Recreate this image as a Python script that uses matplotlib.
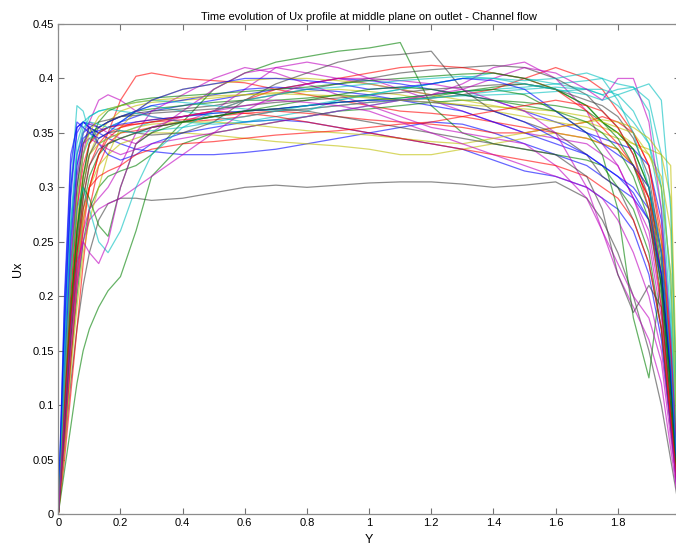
import matplotlib
matplotlib.use("Agg")
import matplotlib.pyplot as plt

plt.rcParams['font.family'] = ['Liberation Sans', 'DejaVu Sans']

# Y positions across the channel (shared by all profiles)
Y = [0, 0.02, 0.04, 0.06, 0.08, 0.1, 0.13, 0.16, 0.2, 0.25, 0.3, 0.4, 0.5, 0.6, 0.7, 0.8,
     0.9, 1.0, 1.1, 1.2, 1.3, 1.4, 1.5, 1.6, 1.7, 1.75, 1.8, 1.85, 1.9, 1.94, 1.97, 2.0]

u01 = [0, 0.20, 0.33, 0.355, 0.36, 0.355, 0.35, 0.355, 0.36, 0.365, 0.37, 0.375, 0.38, 0.385, 0.39, 0.395, 0.40, 0.398, 0.395, 0.39, 0.385, 0.38, 0.37, 0.36, 0.35, 0.345, 0.34, 0.335, 0.32, 0.27, 0.16, 0]
u02 = [0, 0.12, 0.22, 0.30, 0.34, 0.35, 0.355, 0.36, 0.365, 0.37, 0.372, 0.375, 0.378, 0.38, 0.38, 0.382, 0.385, 0.383, 0.38, 0.383, 0.388, 0.392, 0.395, 0.39, 0.375, 0.36, 0.35, 0.335, 0.30, 0.22, 0.12, 0]
u03 = [0, 0.08, 0.16, 0.22, 0.27, 0.30, 0.33, 0.35, 0.38, 0.402, 0.405, 0.40, 0.398, 0.396, 0.39, 0.385, 0.38, 0.375, 0.37, 0.368, 0.365, 0.36, 0.355, 0.35, 0.345, 0.34, 0.335, 0.32, 0.29, 0.22, 0.13, 0]
u04 = [0, 0.18, 0.30, 0.375, 0.37, 0.35, 0.34, 0.345, 0.35, 0.355, 0.36, 0.365, 0.368, 0.37, 0.372, 0.375, 0.378, 0.38, 0.382, 0.385, 0.388, 0.39, 0.392, 0.395, 0.398, 0.40, 0.395, 0.392, 0.37, 0.30, 0.18, 0]
u05 = [0, 0.10, 0.20, 0.28, 0.33, 0.36, 0.38, 0.385, 0.38, 0.37, 0.365, 0.36, 0.37, 0.39, 0.41, 0.415, 0.41, 0.40, 0.39, 0.38, 0.37, 0.36, 0.35, 0.345, 0.34, 0.33, 0.32, 0.29, 0.25, 0.18, 0.09, 0]
u06 = [0, 0.09, 0.18, 0.25, 0.30, 0.33, 0.35, 0.36, 0.37, 0.375, 0.378, 0.38, 0.382, 0.385, 0.387, 0.388, 0.39, 0.388, 0.385, 0.38, 0.375, 0.37, 0.365, 0.36, 0.355, 0.35, 0.345, 0.34, 0.335, 0.33, 0.32, 0]
u07 = [0, 0.06, 0.12, 0.17, 0.21, 0.24, 0.27, 0.285, 0.29, 0.29, 0.288, 0.29, 0.295, 0.30, 0.302, 0.30, 0.302, 0.304, 0.305, 0.305, 0.303, 0.30, 0.302, 0.305, 0.29, 0.27, 0.24, 0.20, 0.15, 0.10, 0.05, 0]
u08 = [0, 0.14, 0.26, 0.33, 0.35, 0.355, 0.35, 0.345, 0.34, 0.335, 0.333, 0.33, 0.33, 0.332, 0.335, 0.34, 0.345, 0.35, 0.355, 0.36, 0.358, 0.35, 0.34, 0.33, 0.32, 0.31, 0.30, 0.29, 0.27, 0.21, 0.11, 0]
u09 = [0, 0.07, 0.14, 0.20, 0.25, 0.28, 0.30, 0.31, 0.315, 0.32, 0.33, 0.36, 0.39, 0.405, 0.415, 0.42, 0.425, 0.428, 0.433, 0.375, 0.35, 0.34, 0.335, 0.33, 0.325, 0.32, 0.30, 0.28, 0.24, 0.17, 0.08, 0]
u10 = [0, 0.05, 0.11, 0.17, 0.23, 0.28, 0.32, 0.34, 0.35, 0.352, 0.355, 0.36, 0.362, 0.365, 0.37, 0.372, 0.375, 0.378, 0.38, 0.382, 0.385, 0.39, 0.40, 0.41, 0.40, 0.39, 0.37, 0.35, 0.32, 0.25, 0.14, 0]
u11 = [0, 0.11, 0.21, 0.29, 0.33, 0.345, 0.35, 0.355, 0.36, 0.37, 0.375, 0.37, 0.365, 0.36, 0.365, 0.37, 0.38, 0.385, 0.39, 0.395, 0.40, 0.405, 0.40, 0.395, 0.39, 0.385, 0.39, 0.392, 0.38, 0.33, 0.20, 0]
u12 = [0, 0.13, 0.24, 0.32, 0.35, 0.36, 0.355, 0.35, 0.345, 0.34, 0.35, 0.37, 0.39, 0.405, 0.41, 0.405, 0.40, 0.395, 0.39, 0.385, 0.395, 0.41, 0.415, 0.40, 0.37, 0.34, 0.32, 0.29, 0.26, 0.19, 0.10, 0]
u13 = [0, 0.07, 0.15, 0.22, 0.27, 0.30, 0.32, 0.33, 0.34, 0.345, 0.35, 0.35, 0.348, 0.345, 0.342, 0.34, 0.338, 0.335, 0.33, 0.33, 0.335, 0.34, 0.345, 0.35, 0.345, 0.34, 0.335, 0.32, 0.30, 0.25, 0.16, 0]
u14 = [0, 0.10, 0.19, 0.26, 0.31, 0.34, 0.355, 0.36, 0.365, 0.368, 0.37, 0.372, 0.375, 0.38, 0.385, 0.39, 0.395, 0.40, 0.405, 0.408, 0.41, 0.412, 0.41, 0.40, 0.385, 0.37, 0.355, 0.33, 0.29, 0.21, 0.12, 0]
u15 = [0, 0.16, 0.29, 0.355, 0.36, 0.358, 0.355, 0.36, 0.365, 0.37, 0.375, 0.38, 0.385, 0.39, 0.392, 0.39, 0.388, 0.385, 0.38, 0.375, 0.37, 0.36, 0.35, 0.34, 0.33, 0.32, 0.31, 0.30, 0.28, 0.22, 0.13, 0]
u16 = [0, 0.04, 0.08, 0.12, 0.15, 0.17, 0.19, 0.205, 0.218, 0.26, 0.31, 0.34, 0.35, 0.355, 0.36, 0.365, 0.37, 0.372, 0.375, 0.378, 0.38, 0.38, 0.378, 0.375, 0.37, 0.36, 0.35, 0.335, 0.30, 0.23, 0.12, 0]
u17 = [0, 0.09, 0.17, 0.24, 0.29, 0.32, 0.34, 0.35, 0.355, 0.358, 0.36, 0.362, 0.365, 0.368, 0.37, 0.368, 0.365, 0.362, 0.36, 0.358, 0.355, 0.35, 0.35, 0.355, 0.36, 0.365, 0.36, 0.35, 0.32, 0.26, 0.15, 0]
u18 = [0, 0.12, 0.23, 0.31, 0.35, 0.365, 0.37, 0.372, 0.375, 0.378, 0.38, 0.378, 0.375, 0.372, 0.37, 0.372, 0.375, 0.378, 0.38, 0.382, 0.384, 0.385, 0.386, 0.388, 0.39, 0.39, 0.385, 0.37, 0.34, 0.28, 0.17, 0]
u19 = [0, 0.08, 0.16, 0.22, 0.26, 0.28, 0.29, 0.30, 0.32, 0.35, 0.37, 0.385, 0.40, 0.41, 0.405, 0.395, 0.385, 0.375, 0.365, 0.355, 0.35, 0.345, 0.34, 0.32, 0.29, 0.26, 0.22, 0.19, 0.16, 0.12, 0.06, 0]
u20 = [0, 0.06, 0.13, 0.19, 0.24, 0.27, 0.30, 0.33, 0.355, 0.37, 0.38, 0.39, 0.395, 0.398, 0.40, 0.40, 0.398, 0.395, 0.39, 0.385, 0.38, 0.375, 0.37, 0.365, 0.36, 0.355, 0.35, 0.34, 0.33, 0.31, 0.26, 0]
u21 = [0, 0.11, 0.22, 0.30, 0.34, 0.355, 0.36, 0.362, 0.365, 0.366, 0.368, 0.37, 0.372, 0.375, 0.378, 0.38, 0.382, 0.385, 0.387, 0.39, 0.392, 0.394, 0.395, 0.39, 0.38, 0.375, 0.365, 0.345, 0.31, 0.24, 0.14, 0]
u22 = [0, 0.17, 0.30, 0.35, 0.36, 0.355, 0.34, 0.33, 0.325, 0.33, 0.34, 0.35, 0.355, 0.36, 0.362, 0.36, 0.355, 0.35, 0.345, 0.34, 0.335, 0.325, 0.315, 0.31, 0.30, 0.29, 0.28, 0.26, 0.22, 0.16, 0.08, 0]
u23 = [0, 0.08, 0.16, 0.23, 0.28, 0.31, 0.33, 0.34, 0.345, 0.35, 0.355, 0.36, 0.365, 0.37, 0.372, 0.375, 0.378, 0.38, 0.382, 0.385, 0.388, 0.39, 0.385, 0.37, 0.35, 0.33, 0.28, 0.18, 0.125, 0.22, 0.12, 0]
u24 = [0, 0.07, 0.14, 0.21, 0.26, 0.30, 0.33, 0.345, 0.355, 0.36, 0.362, 0.365, 0.37, 0.38, 0.39, 0.395, 0.40, 0.405, 0.41, 0.412, 0.41, 0.405, 0.40, 0.39, 0.37, 0.355, 0.34, 0.32, 0.29, 0.24, 0.15, 0]
u25 = [0, 0.15, 0.27, 0.34, 0.36, 0.365, 0.37, 0.372, 0.37, 0.368, 0.365, 0.36, 0.358, 0.36, 0.362, 0.365, 0.37, 0.375, 0.38, 0.382, 0.385, 0.388, 0.39, 0.392, 0.39, 0.385, 0.375, 0.36, 0.34, 0.30, 0.22, 0]
u26 = [0, 0.12, 0.23, 0.31, 0.34, 0.345, 0.34, 0.335, 0.33, 0.335, 0.34, 0.345, 0.35, 0.355, 0.36, 0.365, 0.37, 0.375, 0.38, 0.385, 0.39, 0.40, 0.41, 0.405, 0.39, 0.38, 0.40, 0.40, 0.36, 0.28, 0.16, 0]
u27 = [0, 0.10, 0.19, 0.27, 0.31, 0.33, 0.34, 0.345, 0.35, 0.355, 0.358, 0.36, 0.36, 0.358, 0.355, 0.352, 0.35, 0.348, 0.345, 0.342, 0.34, 0.345, 0.35, 0.355, 0.36, 0.362, 0.36, 0.355, 0.345, 0.33, 0.29, 0]
u28 = [0, 0.09, 0.18, 0.25, 0.30, 0.33, 0.345, 0.35, 0.352, 0.35, 0.348, 0.35, 0.36, 0.38, 0.395, 0.405, 0.415, 0.42, 0.422, 0.425, 0.39, 0.37, 0.36, 0.35, 0.33, 0.31, 0.30, 0.27, 0.23, 0.17, 0.08, 0]
u29 = [0, 0.13, 0.25, 0.32, 0.345, 0.35, 0.352, 0.355, 0.358, 0.36, 0.362, 0.365, 0.368, 0.37, 0.372, 0.375, 0.378, 0.38, 0.38, 0.378, 0.375, 0.37, 0.36, 0.345, 0.33, 0.32, 0.31, 0.295, 0.27, 0.22, 0.13, 0]
u30 = [0, 0.09, 0.18, 0.26, 0.31, 0.34, 0.36, 0.37, 0.375, 0.38, 0.382, 0.384, 0.386, 0.388, 0.39, 0.392, 0.395, 0.398, 0.40, 0.402, 0.404, 0.405, 0.40, 0.39, 0.375, 0.36, 0.345, 0.32, 0.28, 0.21, 0.11, 0]
u31 = [0, 0.11, 0.20, 0.28, 0.32, 0.34, 0.35, 0.355, 0.357, 0.358, 0.36, 0.365, 0.37, 0.368, 0.365, 0.36, 0.355, 0.35, 0.345, 0.34, 0.335, 0.33, 0.325, 0.32, 0.31, 0.30, 0.29, 0.27, 0.23, 0.17, 0.09, 0]
u32 = [0, 0.14, 0.26, 0.33, 0.355, 0.36, 0.358, 0.355, 0.352, 0.35, 0.352, 0.355, 0.36, 0.365, 0.37, 0.375, 0.38, 0.385, 0.39, 0.395, 0.40, 0.40, 0.395, 0.39, 0.385, 0.38, 0.385, 0.39, 0.395, 0.38, 0.28, 0]
u33 = [0, 0.07, 0.15, 0.21, 0.25, 0.27, 0.28, 0.285, 0.29, 0.30, 0.31, 0.33, 0.35, 0.37, 0.385, 0.395, 0.40, 0.40, 0.398, 0.395, 0.39, 0.38, 0.37, 0.35, 0.30, 0.26, 0.23, 0.20, 0.18, 0.14, 0.07, 0]
u34 = [0, 0.12, 0.22, 0.29, 0.33, 0.35, 0.365, 0.372, 0.375, 0.378, 0.38, 0.382, 0.384, 0.385, 0.386, 0.385, 0.384, 0.382, 0.38, 0.378, 0.376, 0.374, 0.372, 0.37, 0.365, 0.36, 0.355, 0.35, 0.33, 0.30, 0.22, 0]
u35 = [0, 0.08, 0.17, 0.24, 0.29, 0.32, 0.335, 0.34, 0.345, 0.35, 0.355, 0.36, 0.365, 0.37, 0.372, 0.37, 0.365, 0.36, 0.355, 0.35, 0.345, 0.34, 0.335, 0.33, 0.31, 0.28, 0.22, 0.185, 0.21, 0.19, 0.10, 0]
u36 = [0, 0.19, 0.32, 0.36, 0.355, 0.35, 0.345, 0.35, 0.36, 0.37, 0.38, 0.39, 0.395, 0.40, 0.40, 0.398, 0.395, 0.39, 0.392, 0.395, 0.40, 0.398, 0.39, 0.37, 0.35, 0.34, 0.33, 0.32, 0.30, 0.24, 0.13, 0]
u37 = [0, 0.10, 0.19, 0.26, 0.30, 0.29, 0.265, 0.255, 0.30, 0.34, 0.35, 0.36, 0.365, 0.37, 0.375, 0.38, 0.385, 0.39, 0.392, 0.39, 0.385, 0.38, 0.375, 0.37, 0.36, 0.35, 0.335, 0.31, 0.27, 0.20, 0.10, 0]
u38 = [0, 0.10, 0.18, 0.24, 0.28, 0.30, 0.31, 0.315, 0.32, 0.33, 0.335, 0.34, 0.342, 0.345, 0.348, 0.35, 0.352, 0.355, 0.358, 0.36, 0.365, 0.37, 0.375, 0.38, 0.375, 0.37, 0.355, 0.33, 0.28, 0.19, 0.09, 0]
u39 = [0, 0.12, 0.22, 0.28, 0.30, 0.28, 0.25, 0.24, 0.26, 0.30, 0.33, 0.355, 0.37, 0.38, 0.385, 0.39, 0.392, 0.395, 0.398, 0.40, 0.402, 0.40, 0.398, 0.40, 0.405, 0.40, 0.38, 0.35, 0.30, 0.24, 0.14, 0]
u40 = [0, 0.09, 0.17, 0.23, 0.25, 0.24, 0.23, 0.25, 0.30, 0.34, 0.355, 0.365, 0.37, 0.375, 0.38, 0.378, 0.375, 0.37, 0.36, 0.35, 0.34, 0.33, 0.32, 0.31, 0.30, 0.29, 0.27, 0.24, 0.20, 0.15, 0.08, 0]

profiles = [u01, u02, u03, u04, u05, u06, u07, u08, u09, u10, u11, u12, u13, u14, u15, u16, u17, u18, u19, u20,
            u21, u22, u23, u24, u25, u26, u27, u28, u29, u30, u31, u32, u33, u34, u35, u36, u37, u38, u39, u40]

# MATLAB classic line colour order
colors = [(0, 0, 1), (0, 0.5, 0), (1, 0, 0), (0, 0.75, 0.75), (0.75, 0, 0.75), (0.75, 0.75, 0), (0.25, 0.25, 0.25)]

xticks = [0, 0.2, 0.4, 0.6, 0.8, 1, 1.2, 1.4, 1.6, 1.8]
xticklabels = ['0', '0.2', '0.4', '0.6', '0.8', '1', '1.2', '1.4', '1.6', '1.8']
yticks = [0, 0.05, 0.1, 0.15, 0.2, 0.25, 0.3, 0.35, 0.4, 0.45]
yticklabels = ['0', '0.05', '0.1', '0.15', '0.2', '0.25', '0.3', '0.35', '0.4', '0.45']

fig = plt.figure(figsize=(6.76, 5.5), dpi=100)
ax = fig.add_axes([58.3 / 676, 36 / 550, (680 - 58.3) / 676, 490 / 550])

for i, u in enumerate(profiles):
    ax.plot(Y, u, color=colors[i % len(colors)], lw=0.9, alpha=0.6)

ax.set_xlim(0, 2)
ax.set_ylim(0, 0.45)
ax.set_xticks(xticks)
ax.set_xticklabels(xticklabels)
ax.set_yticks(yticks)
ax.set_yticklabels(yticklabels)
ax.tick_params(direction='in', length=4, width=0.8, color='0.45', labelsize=8,
               top=True, right=True, pad=3, labelcolor='black')
for s in ax.spines.values():
    s.set_color('0.55')
    s.set_linewidth(0.9)

ax.set_title('Time evolution of Ux profile at middle plane on outlet - Channel flow',
             fontsize=8, pad=3, color='black')
ax.set_xlabel('Y', fontsize=9, labelpad=4, color='black')
ax.set_ylabel('Ux', fontsize=9, labelpad=6, color='black')

fig.savefig('out.png', dpi=100)
